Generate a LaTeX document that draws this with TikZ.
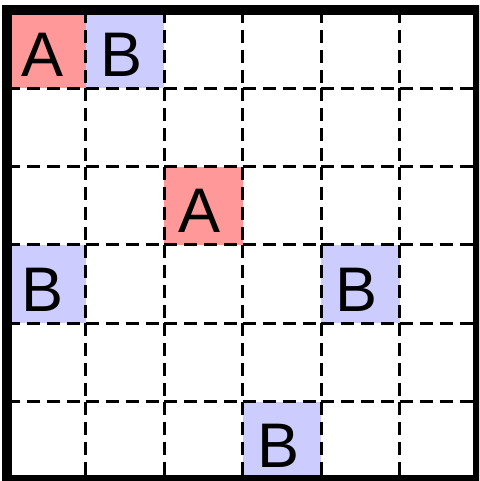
\documentclass[tikz,border=0pt]{standalone}
\usepackage{fontspec}
\setmainfont{Liberation Sans}
\definecolor{cellred}{RGB}{255,153,153}
\definecolor{cellblue}{RGB}{204,204,255}
\tikzset{
  gridline/.style={line width=3pt, dash pattern=on 13pt off 7pt},
  border/.style={line width=10pt},
  letter/.style={inner sep=0pt, font=\fontsize{63}{63}\selectfont, text height=45pt, text depth=0pt}
}
\begin{document}
\begin{tikzpicture}[x=1pt,y=-1pt]
\useasboundingbox (0,0) rectangle (479,481);
\clip (0,0) rectangle (479,481);
\def\xo{7}\def\yo{10}\def\dx{78.5}\def\dy{78.33}
% fills: col,row,colour,letter
\foreach \c/\r/\col/\t in {0/0/cellred/A, 1/0/cellblue/B, 2/2/cellred/A, 0/3/cellblue/B, 4/3/cellblue/B, 3/5/cellblue/B}{
  \fill[\col] (\xo+\c*\dx,\yo+\r*\dy) rectangle (\xo+\c*\dx+\dx,\yo+\r*\dy+\dy);
  \node[letter] (L\c\r) at (\xo+\c*\dx+0.5*\dx-3.5,\yo+\r*\dy+0.5*\dy+4.5) {\t};
}
% dashed grid: per-cell segments
\foreach \i in {1,...,5}{
  \foreach \j in {0,...,5}{
    \draw[gridline] (\xo+\i*\dx,\yo+\j*\dy) -- (\xo+\i*\dx,\yo+\j*\dy+\dy);
    \draw[gridline] (\xo+\j*\dx,\yo+\i*\dy) -- (\xo+\j*\dx+\dx,\yo+\i*\dy);
  }
}
\draw[border] (\xo,\yo) rectangle (\xo+6*\dx,\yo+6*\dy);
\end{tikzpicture}
\end{document}
